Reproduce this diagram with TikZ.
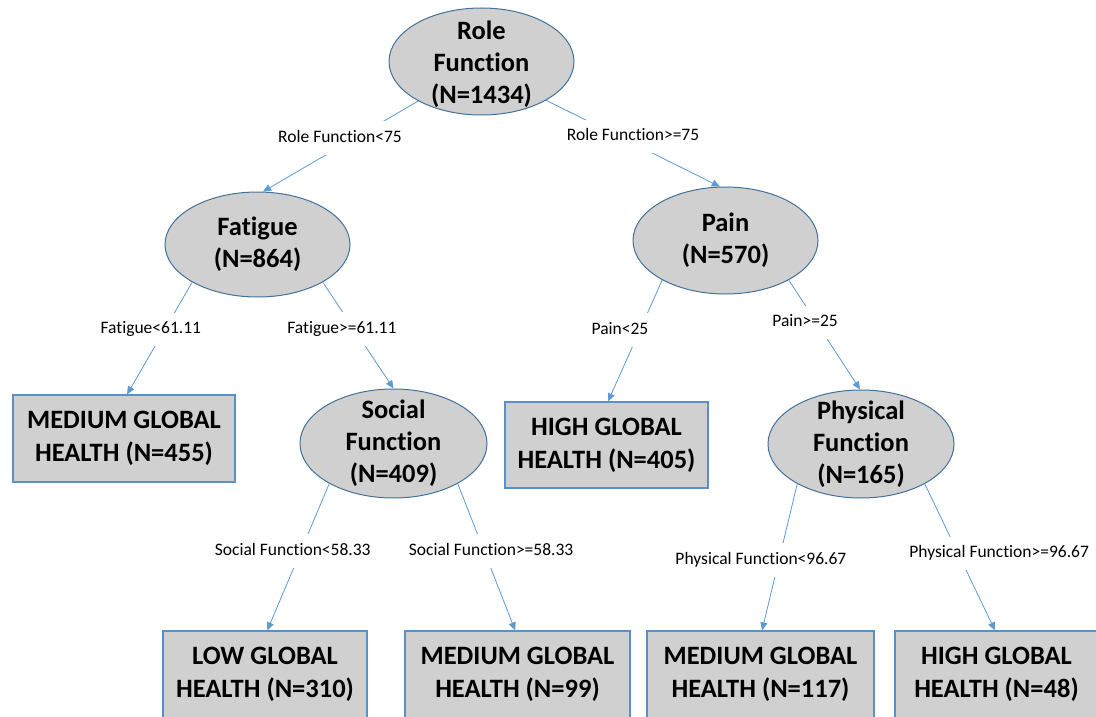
\documentclass[tikz,border=0pt]{standalone}
\usepackage{fontspec}
\setmainfont{Carlito}[Ligatures={NoCommon,NoContextual}]
\usetikzlibrary{shapes.geometric,arrows.meta}
\definecolor{edgeblue}{HTML}{5B9BD5}
\definecolor{ellborder}{HTML}{41719C}
\definecolor{boxborder}{HTML}{5B8FC9}
\definecolor{nodegray}{HTML}{D0D0D0}
\begin{document}
\begin{tikzpicture}[x=1pt,y=-1pt,
  splitnode/.style={ellipse, draw=ellborder, line width=1pt, fill=nodegray, inner sep=0pt},
  ntext/.style={font=\fontsize{26.5}{32}\selectfont\bfseries, align=center, inner sep=0pt},
  leafbox/.style={rectangle, draw=boxborder, line width=1.2pt, fill=nodegray, inner sep=0pt,
    font=\fontsize{26.5}{33}\selectfont\bfseries, align=center},
  conn/.style={draw=edgeblue, line width=0.8pt, -{Triangle[length=8pt,width=7pt]}},
  lab/.style={fill=white, font=\fontsize{17.5}{21}\selectfont, inner xsep=1pt, inner ysep=8.5pt,
    text height=12.5pt, text depth=4pt}
]
\fill[white] (0,0) rectangle (1096,717);
\useasboundingbox (0,0) rectangle (1096,717);

% split nodes
\node[splitnode, minimum width=185pt, minimum height=107pt,
  label={[ntext, yshift=-2.5pt]center:{Role\\Function\\(N=1434)}}] (root) at (481.5,61.5) {};
\node[splitnode, minimum width=185pt, minimum height=105pt,
  label={[ntext]center:{Fatigue\\(N=864)}}] (fat) at (257.5,244.5) {};
\node[splitnode, minimum width=185pt, minimum height=107pt,
  label={[ntext]center:{Pain\\(N=570)}}] (pain) at (725.5,240.5) {};
\node[splitnode, minimum width=187pt, minimum height=109pt,
  label={[ntext]center:{Social\\Function\\(N=409)}}] (soc) at (393.5,443.5) {};
\node[splitnode, minimum width=186pt, minimum height=108pt,
  label={[ntext]center:{Physical\\Function\\(N=165)}}] (phys) at (861,444) {};

% leaf boxes
\node[leafbox, minimum width=222pt, minimum height=87pt] (med1) at (124,438.5) {MEDIUM GLOBAL\\HEALTH (N=455)};
\node[leafbox, minimum width=203pt, minimum height=86pt] (high1) at (606.5,445) {HIGH GLOBAL\\HEALTH (N=405)};
\node[leafbox, minimum width=204pt, minimum height=87pt] (low) at (265,674.5) {LOW GLOBAL\\HEALTH (N=310)};
\node[leafbox, minimum width=225pt, minimum height=87pt] (med99) at (517.5,674.5) {MEDIUM GLOBAL\\HEALTH (N=99)};
\node[leafbox, minimum width=227pt, minimum height=87pt] (med117) at (760.5,674.5) {MEDIUM GLOBAL\\HEALTH (N=117)};
\node[leafbox, minimum width=203pt, minimum height=87pt] (high48) at (996.5,674.5) {HIGH GLOBAL\\HEALTH (N=48)};

% connectors
\draw[conn] (root.212) -- node[lab, pos=0.407, xshift=-15pt] {Role Function<75} (fat.84);
\draw[conn] (root.329) -- node[lab, pos=0.42, xshift=14pt] {Role Function>=75} (pain.96);
\draw[conn] (fat.210) -- node[lab, pos=0.42, xshift=-14pt] {Fatigue<61.11} (med1.86);
\draw[conn] (fat.330) -- node[lab, pos=0.44, xshift=-12pt] {Fatigue>=61.11} (soc.90);
\draw[conn] (pain.212) -- node[lab, pos=0.41, xshift=-20pt] {Pain<25} (high1.88);
\draw[conn] (pain.328) -- node[lab, pos=0.39, xshift=-11.5pt] {Pain>=25} (phys.91);
\draw[conn] (soc.212) -- node[lab, pos=0.46, xshift=-8pt] {Social Function<58.33} (low.87);
\draw[conn] (soc.328) -- node[lab, pos=0.46, xshift=7pt] {Social Function>=58.33} (med99.93);
\draw[conn] (phys.212) -- node[lab, pos=0.52, xshift=-18pt] {Physical Function<96.67} (med117.88);
\draw[conn] (phys.328) -- node[lab, pos=0.476, xshift=41pt] {Physical Function>=96.67} (high48.92);
\end{tikzpicture}
\end{document}
